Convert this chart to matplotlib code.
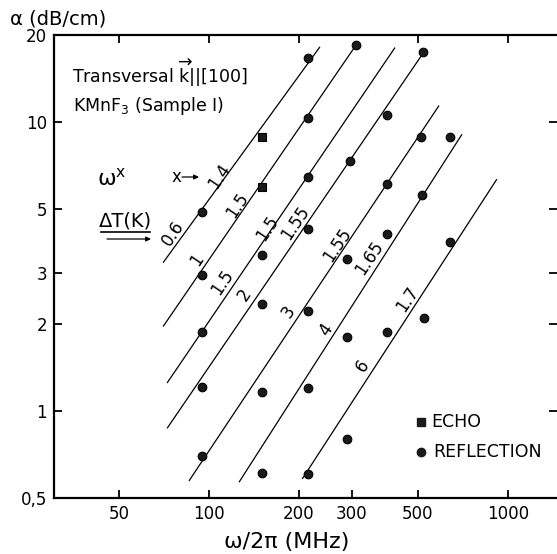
import numpy as np
import matplotlib
matplotlib.use('Agg')
import matplotlib.pyplot as plt
from matplotlib.lines import Line2D

# ---------------- data ----------------
refl_freq = [95, 95, 95, 95, 95,
             150, 150, 150, 150,
             215, 215, 215, 215, 215, 215, 215,
             310, 296, 289, 289, 289,
             395, 395, 395, 395,
             520, 512, 515, 524,
             640, 640]
refl_alpha = [4.9, 2.95, 1.88, 1.21, 0.70,
              3.47, 2.35, 1.16, 0.61,
              16.6, 10.3, 6.45, 4.27, 2.22, 1.20, 0.605,
              18.5, 7.3, 3.36, 1.80, 0.80,
              10.6, 6.1, 4.1, 1.87,
              17.4, 8.9, 5.6, 2.09,
              8.85, 3.85]
echo_freq = [150, 150]
echo_alpha = [8.9, 5.95]

line_f_lo = [70.2, 70.2, 72.4, 72.4, 85.7, 126, 205]
line_a_lo = [3.26, 1.96, 1.25, 0.871, 0.573, 0.567, 0.582]
line_f_hi = [235, 313, 419, 528, 588, 702, 918]
line_a_hi = [18.2, 18.7, 18.1, 17.7, 11.4, 9.07, 6.34]
dT_labels = ['0.6', '1', '1.5', '2', '3', '4', '6']
x_labels = ['1.4', '1.5', '1.5', '1.55', '1.55', '1.65', '1.7']

x_ticks = [50, 100, 200, 300, 500, 1000]
x_ticklabels = ['50', '100', '200', '300', '500', '1000']
x_top_ticks = [50, 100, 200, 500, 1000]
y_ticks = [0.5, 1, 2, 3, 5, 10, 20]
y_ticklabels = ['0,5', '1', '2', '3', '5', '10', '20']

# label positions (layout)
dT_pos_f = [75.8, 91.2, 110.5, 132, 184, 246, 327]
dT_pos_a = [4.13, 3.34, 2.78, 2.53, 2.21, 1.91, 1.43]
x_pos_f = [108, 124, 157, 195, 268, 343, 459]
x_pos_a = [6.5, 5.16, 4.3, 4.48, 3.76, 3.39, 2.43]

W, H = 557, 554
fig = plt.figure(figsize=(W / 100, H / 100), dpi=100)
ax = fig.add_axes([54 / W, 1 - 498 / H, 1 - 54 / W, (498 - 35) / H])


def P(x, y):
    return x / W, 1 - y / H


ax.set_xscale('log')
ax.set_yscale('log')
ax.set_xlim(30.3, 1459)
ax.set_ylim(0.5, 20)

for fl, al, fh, ah in zip(line_f_lo, line_a_lo, line_f_hi, line_a_hi):
    ax.plot([fl, fh], [al, ah], color='black', lw=0.9, solid_capstyle='butt')

ax.plot(refl_freq, refl_alpha, 'o', ms=6.2, mfc='#1a1a1a', mec='black', mew=0.8, ls='none')
ax.plot(echo_freq, echo_alpha, 's', ms=5.8, mfc='#1a1a1a', mec='black', mew=0.8, ls='none')

for lab, f, a in zip(dT_labels, dT_pos_f, dT_pos_a):
    ax.text(f, a, lab, rotation=56, rotation_mode='anchor', ha='center', va='center', fontsize=12)
for lab, f, a in zip(x_labels, x_pos_f, x_pos_a):
    ax.text(f, a, lab, rotation=56, rotation_mode='anchor', ha='center', va='center', fontsize=12)

# axes styling
ax.xaxis.set_major_locator(matplotlib.ticker.FixedLocator(x_ticks))
ax.xaxis.set_major_formatter(matplotlib.ticker.FixedFormatter(x_ticklabels))
ax.xaxis.set_minor_locator(matplotlib.ticker.NullLocator())
ax.yaxis.set_major_locator(matplotlib.ticker.FixedLocator(y_ticks))
ax.yaxis.set_major_formatter(matplotlib.ticker.FixedFormatter(y_ticklabels))
ax.yaxis.set_minor_locator(matplotlib.ticker.NullLocator())
ax.tick_params(axis='both', which='major', direction='in', length=6, width=1.3,
               labelsize=12, pad=5)
ax.tick_params(axis='y', right=True, left=True)
ax.tick_params(axis='x', top=False)
ax.spines['right'].set_visible(False)
for s in ['left', 'top', 'bottom']:
    ax.spines[s].set_linewidth(1.6)

ax2 = ax.twiny()
ax2.set_xscale('log')
ax2.set_xlim(ax.get_xlim())
ax2.xaxis.set_major_locator(matplotlib.ticker.FixedLocator(x_top_ticks))
ax2.xaxis.set_minor_locator(matplotlib.ticker.NullLocator())
ax2.tick_params(axis='x', direction='in', length=6, width=1.3, labeltop=False)
for s in ax2.spines.values():
    s.set_visible(False)


def farrow(x0, y0, x1, y1):
    ax.annotate('', xy=P(x1, y1), xytext=P(x0, y0), xycoords='figure fraction',
                textcoords='figure fraction', annotation_clip=False,
                arrowprops=dict(arrowstyle='-|>', color='black', lw=0.9,
                                mutation_scale=7, shrinkA=0, shrinkB=0))


# text annotations
fig.text(*P(10, 19), 'α (dB/cm)', fontsize=14, ha='left', va='center')
fig.text(*P(287, 542), 'ω/2π (MHz)', fontsize=16, ha='center', va='center')
fig.text(*P(72, 73), r'Transversal $\overrightarrow{\mathrm{k}}$||[100]', fontsize=12.5,
         ha='left', va='center')
fig.text(*P(73, 106), r'KMnF$_3$ (Sample I)', fontsize=12.5, ha='left', va='center')
fig.text(*P(97, 178), r'ω$^{\mathrm{x}}$', fontsize=16, ha='left', va='center')
fig.text(*P(172, 177), 'x', fontsize=12, ha='left', va='center')
farrow(182, 177, 199, 177)
fig.text(*P(125, 221), 'ΔT(K)', fontsize=14, ha='center', va='center')
fig.add_artist(Line2D([101 / W, 150 / W], [1 - 232 / H, 1 - 232 / H], color='black', lw=1.2))
farrow(107, 239, 151, 239)

# legend (manual)
lx, ly1, ly2 = P(421, 422)[0], P(421, 422)[1], P(421, 452)[1]
fig.add_artist(Line2D([lx], [ly1], marker='s', ms=5.5, color='#1a1a1a', ls='none'))
fig.add_artist(Line2D([lx], [ly2], marker='o', ms=6, color='#1a1a1a', ls='none'))
fig.text(*P(431, 422), 'ECHO', fontsize=12.5, ha='left', va='center')
fig.text(*P(433, 452), 'REFLECTION', fontsize=12.5, ha='left', va='center')

fig.savefig('out.png', dpi=100)
